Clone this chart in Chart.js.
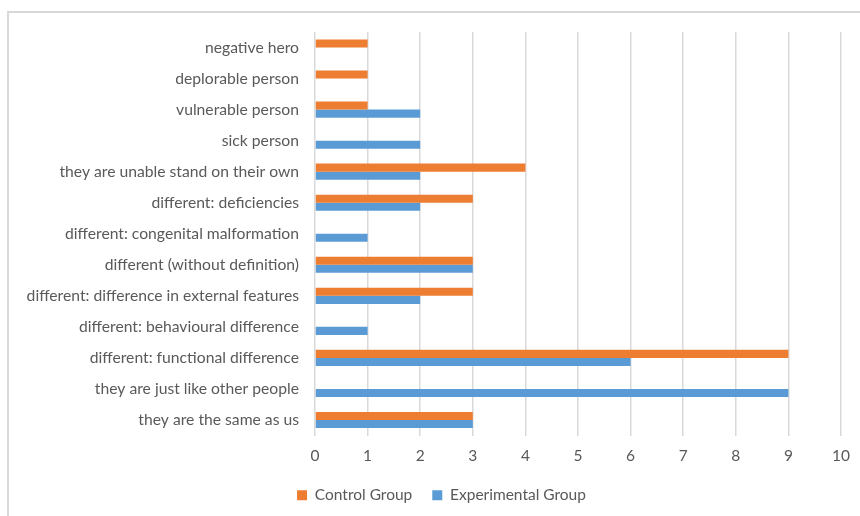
<!DOCTYPE html>
<html>
<head>
<meta charset="utf-8">
<script src="https://cdn.jsdelivr.net/npm/chart.js@4"></script>
<style>
  html, body { margin: 0; padding: 0; background: #ffffff; }
  #frame {
    position: absolute; left: 7px; top: 11px; width: 900px; height: 600px;
    border-left: 2px solid #d9d9d9; border-top: 2px solid #d9d9d9;
  }
  #wrap { position: absolute; left: 0; top: 0; width: 860px; height: 516px; }
</style>
</head>
<body>
<div id="frame"></div>
<div id="wrap"><canvas id="c" width="860" height="516"></canvas></div>
<script>
// Perceptions of people with disabilities, counted per group
const categories = [
  "negative hero",
  "deplorable person",
  "vulnerable person",
  "sick person",
  "they are unable stand on their own",
  "different: deficiencies",
  "different: congenital malformation",
  "different (without definition)",
  "different: difference in external features",
  "different: behavioural difference",
  "different: functional difference",
  "they are just like other people",
  "they are the same as us"
];
const controlGroup =      [1, 1, 1, 0, 4, 3, 0, 3, 3, 0, 9, 0, 3];
const experimentalGroup = [0, 0, 2, 2, 2, 2, 1, 3, 2, 1, 6, 9, 3];
const xTicks = [0, 1, 2, 3, 4, 5, 6, 7, 8, 9, 10];

const textColor = "#595959";
const gridColor = "#d9d9d9";
const fontFamily = "Lato, 'Open Sans', sans-serif";

// Nudge the legend row to the right so it sits centred under the plot
const legendShift = {
  id: "legendShift",
  afterLayout(chart) {
    if (chart.legend) { chart.legend.left += 42; }
  }
};

new Chart(document.getElementById("c"), {
  type: "bar",
  data: {
    labels: categories,
    datasets: [
      { label: "Control Group", data: controlGroup, backgroundColor: "#ED7D31",
        categoryPercentage: 0.52, barPercentage: 1.0 },
      { label: "Experimental Group", data: experimentalGroup, backgroundColor: "#5B9BD5",
        categoryPercentage: 0.52, barPercentage: 1.0 }
    ]
  },
  plugins: [legendShift],
  options: {
    indexAxis: "y",
    responsive: false,
    animation: false,
    layout: { padding: { left: 0, right: 19, top: 32, bottom: 3 } },
    scales: {
      x: {
        min: 0, max: 10,
        afterBuildTicks: (scale) => { scale.ticks = xTicks.map(v => ({ value: v })); },
        grid: { color: gridColor, lineWidth: 1.5, drawTicks: false },
        border: { display: false },
        ticks: { color: textColor, font: { family: fontFamily, size: 15.5 }, padding: 11 },
        afterFit: (scale) => {
          scale.height = 32;
          scale.paddingLeft = 0;
          scale.paddingRight = 0;
        }
      },
      y: {
        grid: { display: false },
        border: { display: false },
        ticks: { color: textColor, font: { family: fontFamily, size: 15.7 }, padding: 8, autoSkip: false },
        afterFit: (scale) => { scale.width = 315; }
      }
    },
    plugins: {
      tooltip: { enabled: false },
      legend: {
        position: "bottom",
        labels: {
          color: textColor,
          font: { family: fontFamily, size: 15.5 },
          boxWidth: 10, boxHeight: 10, padding: 20
        }
      }
    }
  }
});
</script>
</body>
</html>
